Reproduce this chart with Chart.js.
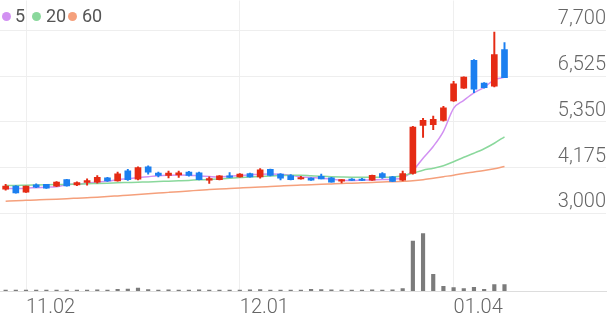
<!DOCTYPE html>
<html>
<head>
<meta charset="utf-8">
<script src="https://cdn.jsdelivr.net/npm/chart.js@4/dist/chart.umd.min.js"></script>
<style>
  html, body { margin: 0; padding: 0; background: #fff; }
  #wrap { position: relative; width: 610px; height: 318px; }
  canvas { position: absolute; left: 0; top: 0; }
  .lg { position: absolute; font-family: Roboto, sans-serif; font-size: 18px; color: #555; line-height: 20px; top: 6px; }
  .dot { position: absolute; width: 9px; height: 9px; border-radius: 50%; top: 12px; }
</style>
</head>
<body>
<div id="wrap">
  <canvas id="c" width="610" height="318"></canvas>
  <span class="dot" style="left:2px;background:#d291f2"></span><span class="lg" style="left:15px">5</span>
  <span class="dot" style="left:32px;background:#8ad89c"></span><span class="lg" style="left:46px">20</span>
  <span class="dot" style="left:68px;background:#f5a07c"></span><span class="lg" style="left:82px">60</span>
</div>
<script>
const dates = ['10.29','10.30','11.02','11.03','11.04','11.05','11.06','11.09','11.10','11.11','11.12','11.13','11.16','11.17','11.18','11.19','11.20','11.23','11.24','11.25','11.26','11.27','11.30','12.01','12.02','12.03','12.04','12.07','12.08','12.09','12.10','12.11','12.14','12.15','12.16','12.17','12.18','12.21','12.22','12.23','12.24','12.28','12.29','12.30','01.04','01.05','01.06','01.07','01.08','01.11'];
const tickLabels = ['11.02','12.01','01.04'];
const priceTicks = [3000, 4175, 5350, 6525, 7700];

const open  = [3625,3705,3545,3735,3745,3700,3870,3735,3795,3805,3915,3835,4095,3880,4195,4035,3975,3990,4065,4040,3855,3870,3965,3940,4025,3940,4130,4010,3975,3885,3905,3955,3915,3830,3880,3885,3855,4025,3940,3855,4025,5260,5280,5390,5890,6220,6930,6350,6270,7210];
const high  = [3745,3715,3705,3760,3750,3820,3875,3810,3890,3975,3930,4065,4130,4195,4220,4065,4085,4085,4080,4060,3940,3970,4050,4025,4035,4155,4140,4025,4000,3950,3915,4010,3925,3870,3895,3900,3985,4050,3950,4085,5240,5440,5500,5750,6390,6510,6950,6360,7660,7390];
const low   = [3600,3520,3540,3665,3645,3690,3700,3715,3725,3775,3825,3830,3845,3860,4010,3940,3915,3925,3960,3860,3770,3860,3920,3930,3930,3905,3965,3860,3860,3880,3845,3885,3800,3785,3840,3840,3850,3900,3815,3835,4010,4950,5150,5370,5880,6210,6100,6220,6250,6490];
const close = [3705,3530,3700,3675,3650,3805,3710,3795,3845,3925,3835,4015,3870,4180,4060,3975,4035,4040,3975,3870,3885,3965,3925,4010,3940,4120,3975,3905,3870,3910,3855,3885,3805,3855,3845,3845,3980,3925,3820,4025,5220,5390,5420,5710,6330,6500,6190,6230,7080,6490];
const volume = [80,90,70,60,80,90,100,60,90,110,100,170,180,300,150,100,110,90,100,120,80,90,70,80,110,140,100,90,80,70,170,140,110,90,70,60,120,90,110,240,5000,5740,1670,470,340,240,370,170,640,640];
const ma5  = [3636,3641,3649,3662,3674,3687,3738,3751,3777,3803,3828,3867,3892,3918,3944,3969,3982,3990,3982,3964,3949,3938,3956,3974,3990,4008,4015,4003,3982,3938,3926,3905,3879,3854,3846,3854,3862,3872,3879,3918,4100,4420,4720,5110,5700,5905,6097,6238,6431,6495];
const ma20 = [3718,3720,3726,3731,3736,3741,3746,3751,3762,3769,3777,3787,3795,3803,3810,3820,3828,3838,3849,3864,3872,3887,3905,3923,3936,3951,3964,3974,3982,3982,3969,3956,3944,3936,3931,3931,3931,3931,3938,3969,4033,4110,4161,4226,4328,4444,4546,4661,4803,4969];
const ma60 = [3315,3326,3336,3346,3356,3367,3379,3392,3405,3418,3433,3451,3469,3487,3505,3523,3541,3559,3577,3597,3613,3628,3641,3654,3667,3679,3692,3705,3718,3728,3738,3749,3759,3769,3777,3787,3797,3808,3815,3826,3838,3864,3905,3944,3982,4026,4064,4103,4149,4208];

const RED = '#e52b14', BLUE = '#1b7ff0';
const xs = dates.map((_, k) => k);
const candleColor = xs.map(k => close[k] >= open[k] ? RED : BLUE);
const tickVals = tickLabels.map(l => dates.indexOf(l));

function lineDs(label, arr, color) {
  return { type: 'line', label, data: xs.map(k => ({ x: k, y: arr[k] })), borderColor: color,
    borderWidth: 1.5, pointRadius: 0, cubicInterpolationMode: 'monotone', yAxisID: 'y', order: 5 };
}

new Chart(document.getElementById('c'), {
  type: 'bar',
  data: {
    datasets: [
      lineDs('60', ma60, '#f5a07c'),
      lineDs('20', ma20, '#8ad89c'),
      lineDs('5', ma5, '#d291f2'),
      { label: 'wick', data: xs.map(k => ({ x: k, y: [low[k], high[k]] })), backgroundColor: candleColor,
        barThickness: 1.3, grouped: false, yAxisID: 'y', order: 2 },
      { label: 'body', data: xs.map(k => ({ x: k, y: [Math.min(open[k], close[k]), Math.max(open[k], close[k])] })),
        backgroundColor: candleColor, barThickness: 6, minBarLength: 1.5, grouped: false, yAxisID: 'y', order: 1 },
      { label: 'vol', data: xs.map(k => ({ x: k, y: volume[k] })), backgroundColor: '#7b7b7b',
        barThickness: 3.5, minBarLength: 1, grouped: false, yAxisID: 'y2', order: 3 }
    ]
  },
  options: {
    responsive: false, animation: false, devicePixelRatio: 1,
    layout: { padding: { left: 0, right: 4, top: 0, bottom: 0 } },
    plugins: { legend: { display: false }, tooltip: { enabled: false } },
    scales: {
      x: {
        type: 'linear', min: -0.554, max: 58.97, offset: false,
        grid: { color: '#efefef', drawTicks: false, offset: false },
        border: { display: true, color: '#dddddd' },
        afterBuildTicks: s => { s.ticks = tickVals.map(v => ({ value: v })); },
        afterFit: s => { s.height = 27; },
        ticks: { autoSkip: false, maxRotation: 0, align: 'start', padding: 7, color: '#666',
          font: { family: 'Roboto', size: 20, weight: 300, lineHeight: 1 }, callback: v => dates[v] }
      },
      y: {
        position: 'right', min: 1008, max: 8469,
        grid: { color: '#eeeeee', drawTicks: false },
        border: { display: false },
        afterBuildTicks: s => { s.ticks = priceTicks.map(v => ({ value: v })); },
        ticks: { mirror: true, padding: 0, labelOffset: -11, color: '#666',
          font: { family: 'Roboto', size: 20, weight: 300, lineHeight: 0.05 },
          callback: v => v.toLocaleString('en-US') }
      },
      y2: { display: false, min: 0, max: 29100 }
    }
  }
});
</script>
</body>
</html>
